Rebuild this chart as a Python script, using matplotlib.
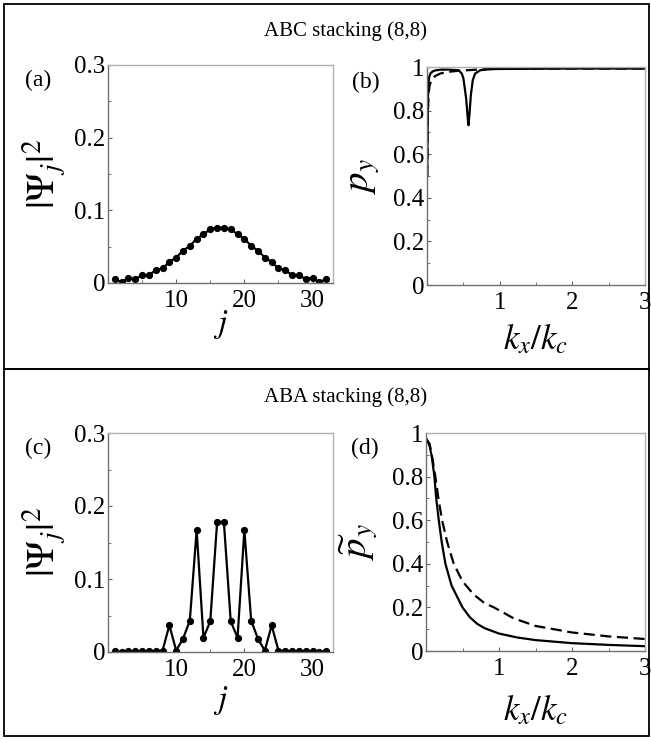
import matplotlib
matplotlib.use("Agg")
import matplotlib.pyplot as plt
from matplotlib.ticker import MultipleLocator
from matplotlib.patches import Rectangle

plt.rcParams['font.family'] = ['Liberation Serif', 'DejaVu Serif']
plt.rcParams['mathtext.fontset'] = 'stix'

# ---- site index and probability densities ----
j_sites = list(range(1, 33))

psi_abc = [0.005, 0.0014, 0.007, 0.005, 0.011, 0.0105, 0.018, 0.020,
           0.029, 0.035, 0.0445, 0.051, 0.061, 0.067, 0.074, 0.076,
           0.076, 0.074, 0.067, 0.061, 0.051, 0.0445, 0.035, 0.029,
           0.020, 0.018, 0.0105, 0.011, 0.005, 0.007, 0.0014, 0.005]

psi_aba = [0.001, 0.0005, 0.001, 0.001, 0.0015, 0.001, 0.0012, 0.002,
           0.0365, 0.002, 0.018, 0.043, 0.167, 0.0196, 0.042, 0.1775,
           0.1775, 0.042, 0.0196, 0.167, 0.043, 0.018, 0.002, 0.0365,
           0.002, 0.0012, 0.001, 0.0015, 0.001, 0.001, 0.0005, 0.001]

# ---- polarization vs k_x/k_c, ABC stacking ----
k_abc_solid = [0.003, 0.008, 0.013, 0.02, 0.03, 0.05, 0.08, 0.12, 0.2, 0.3,
               0.434, 0.479, 0.502, 0.539, 0.562, 0.571, 0.584, 0.603,
               0.630, 0.662, 0.731, 0.85, 1.0, 1.5, 2.0, 2.5, 3.0]
p_abc_solid = [0.50, 0.70, 0.85, 0.92, 0.955, 0.972, 0.98, 0.985, 0.988, 0.988,
               0.985, 0.97, 0.946, 0.855, 0.76, 0.733, 0.78, 0.87,
               0.94, 0.97, 0.985, 0.99, 0.991, 0.992, 0.993, 0.993, 0.993]

k_abc_dash = [0.004, 0.012, 0.023, 0.036, 0.068, 0.114, 0.183, 0.274, 0.41,
              0.55, 0.73, 1.05, 1.5, 2.0, 2.5, 3.0]
p_abc_dash = [0.50, 0.78, 0.885, 0.916, 0.944, 0.959, 0.97, 0.977, 0.982,
              0.985, 0.989, 0.992, 0.993, 0.993, 0.993, 0.993]

# ---- polarization vs k_x/k_c, ABA stacking ----
k_aba_solid = [0.01, 0.05, 0.08, 0.115, 0.14, 0.175, 0.215, 0.266, 0.35, 0.5,
               0.6, 0.7, 0.8, 1.0, 1.25, 1.5, 2.0, 2.5, 3.0]
p_aba_solid = [0.97, 0.94, 0.89, 0.8, 0.7, 0.6, 0.5, 0.4, 0.3, 0.2,
               0.155, 0.125, 0.105, 0.08, 0.062, 0.05, 0.036, 0.028, 0.022]

k_aba_dash = [0.01, 0.05, 0.09, 0.128, 0.17, 0.22, 0.29, 0.38, 0.5, 0.65,
              0.8, 0.93, 1.2, 1.5, 2.0, 2.5, 3.0]
p_aba_dash = [0.97, 0.95, 0.88, 0.8, 0.7, 0.6, 0.5, 0.4, 0.32, 0.26,
              0.22, 0.2, 0.15, 0.115, 0.085, 0.067, 0.055]

W, H = 651, 739
fig = plt.figure(figsize=(W / 100, H / 100), dpi=100)


def px_axes(x0, y0, x1, y1):
    # axes from pixel box (top-left origin)
    return fig.add_axes([x0 / W, 1 - y1 / H, (x1 - x0) / W, (y1 - y0) / H])


def style(ax):
    for side in ['top', 'right']:
        ax.spines[side].set_color('#b0b0b0')
    for side in ['left', 'bottom']:
        ax.spines[side].set_color('#707070')
    for s in ax.spines.values():
        s.set_linewidth(1.0)
    ax.tick_params(which='both', direction='in', colors='#606060',
                   labelcolor='black', labelsize=18)
    ax.tick_params(which='major', length=3, width=0.8)
    ax.tick_params(which='minor', length=2, width=0.6)
    ax.tick_params(axis='x', pad=5)
    ax.tick_params(axis='y', pad=2)


def place_labels(ax, xl_y, yl_x):
    ax.xaxis.set_label_coords(0.5, xl_y)
    ax.xaxis.label.set_va('center')
    ax.yaxis.set_label_coords(yl_x, 0.5)
    ax.yaxis.label.set_va('center')


def density_panel(ax, vals, tag, xl_y):
    ax.plot(j_sites, vals, color='black', lw=1.6, marker='o', ms=4.2)
    ax.set_xlim(0, 33)
    ax.set_ylim(0, 0.3)
    ax.set_xticks([10, 20, 30])
    ax.set_yticks([0, 0.1, 0.2, 0.3])
    ax.set_yticklabels(['0', '0.1', '0.2', '0.3'])
    ax.xaxis.set_minor_locator(MultipleLocator(5))
    ax.yaxis.set_minor_locator(MultipleLocator(0.05))
    style(ax)
    ax.set_xlabel(r'$j$', fontsize=24)
    ax.set_ylabel(r'$|\Psi_j|^2$', fontsize=28)
    place_labels(ax, xl_y, -0.28)
    ax.text(-0.31, 0.93, tag, transform=ax.transAxes, fontsize=17,
            ha='center', va='center')


def polar_panel(ax, ks, ps, kd, pd, ylab, tag, xl_y, yl_x):
    ax.plot(ks, ps, color='black', lw=1.6)
    ax.plot(kd, pd, color='black', lw=1.6, dashes=(5, 2.5))
    ax.set_xlim(0, 3)
    ax.set_ylim(0, 1)
    ax.set_xticks([1, 2, 3])
    ax.set_yticks([0, 0.2, 0.4, 0.6, 0.8, 1])
    ax.set_yticklabels(['0', '0.2', '0.4', '0.6', '0.8', '1'])
    ax.xaxis.set_minor_locator(MultipleLocator(0.5))
    ax.yaxis.set_minor_locator(MultipleLocator(0.1))
    style(ax)
    ax.set_xlabel(r'$k_x/k_c$', fontsize=25)
    ax.set_ylabel(ylab, fontsize=28)
    place_labels(ax, xl_y, yl_x)
    ax.text(-0.28, 0.93, tag, transform=ax.transAxes, fontsize=17,
            ha='center', va='center')


ax_a = px_axes(108, 65, 333, 283)
density_panel(ax_a, psi_abc, '(a)', -0.19)
ax_b = px_axes(427, 67, 645, 285)
polar_panel(ax_b, k_abc_solid, p_abc_solid, k_abc_dash, p_abc_dash,
            r'$p_y$', '(b)', -0.25, -0.29)

ax_c = px_axes(108, 433, 333, 652)
density_panel(ax_c, psi_aba, '(c)', -0.22)
ax_d = px_axes(426, 433, 645, 651)
polar_panel(ax_d, k_aba_solid, p_aba_solid, k_aba_dash, p_aba_dash,
            r'$\widetilde{p}_y$', '(d)', -0.275, -0.305)

# section titles and frames
fig.text(346 / W, 1 - 31 / H, 'ABC stacking (8,8)', fontsize=15,
         ha='center', va='center')
fig.text(346 / W, 1 - 397 / H, 'ABA stacking (8,8)', fontsize=15,
         ha='center', va='center')
for y0, y1 in [(4, 369), (369, 736)]:
    fig.add_artist(Rectangle((4 / W, 1 - y1 / H), 645 / W, (y1 - y0) / H,
                             transform=fig.transFigure, fill=False,
                             edgecolor='black', lw=1.3))

fig.savefig('out.png', dpi=100)
